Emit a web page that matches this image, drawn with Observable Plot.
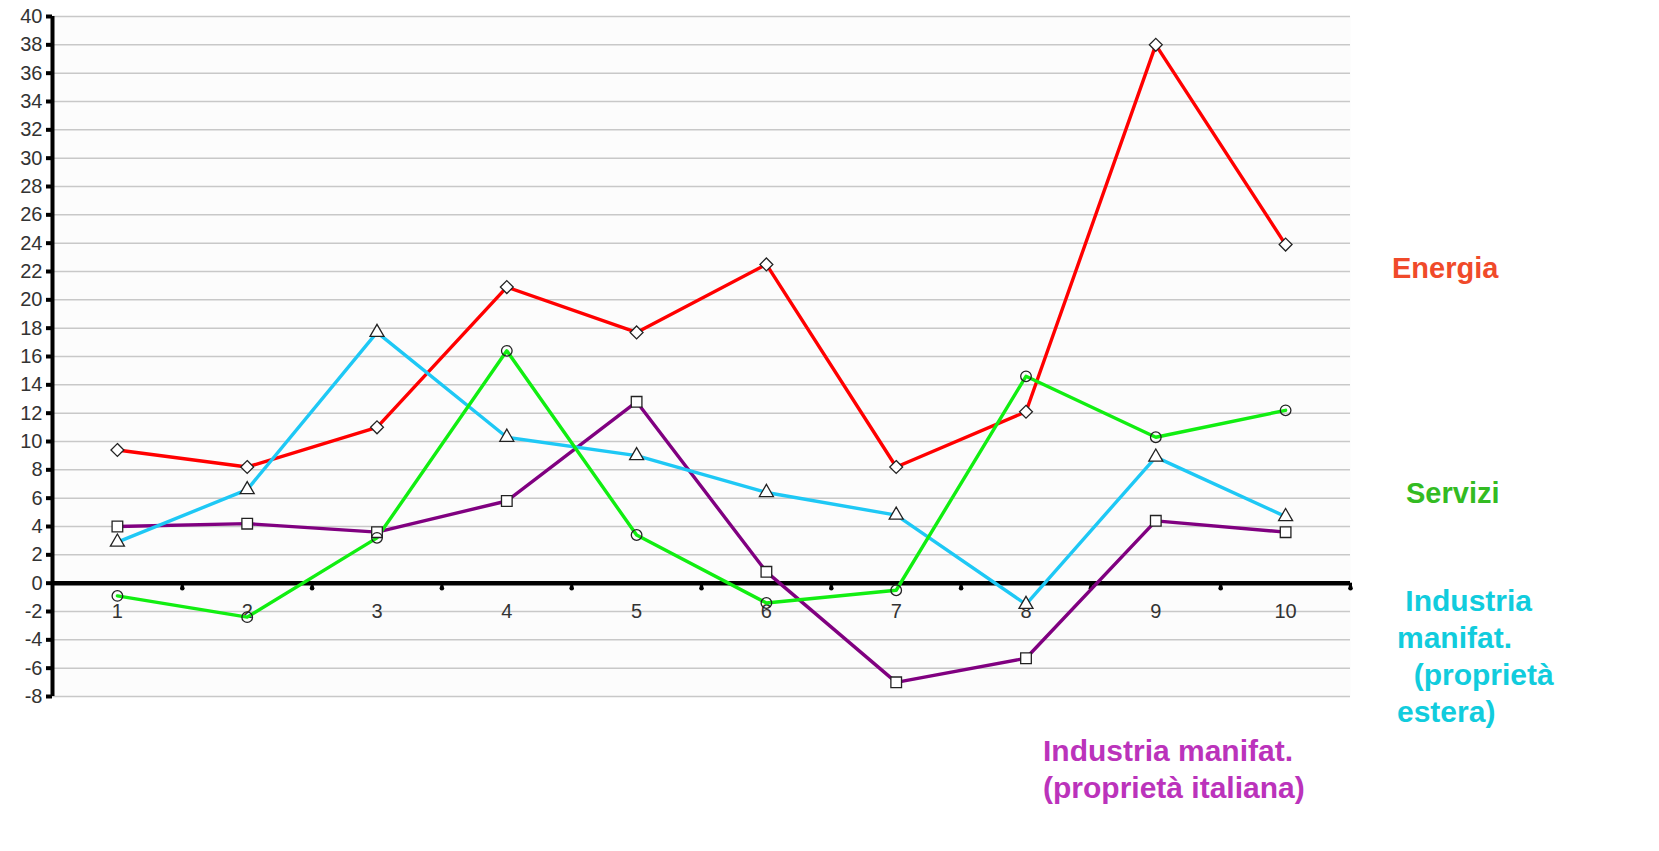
<!DOCTYPE html>
<html>
<head>
<meta charset="utf-8">
<script src="https://cdn.jsdelivr.net/npm/d3@7"></script>
<script src="https://cdn.jsdelivr.net/npm/@observablehq/plot@0.6"></script>
<style>
  html, body { margin: 0; padding: 0; background: #ffffff; }
  #wrap { position: relative; width: 1659px; height: 851px; overflow: hidden; }
  .lbl { position: absolute; font-family: "Liberation Sans", Arial, sans-serif; font-weight: bold; font-size: 30px; line-height: 37px; white-space: pre; }
</style>
</head>
<body>
<div id="wrap"></div>
<script>
const categories = [1, 2, 3, 4, 5, 6, 7, 8, 9, 10];
const energia      = [9.4, 8.2, 11.0, 20.9, 17.7, 22.5, 8.2, 12.1, 38.0, 23.9];
const industriaEst = [2.9, 6.6, 17.7, 10.3, 9.0, 6.4, 4.8, -1.5, 8.9, 4.7];
const servizi      = [-0.9, -2.4, 3.2, 16.4, 3.4, -1.4, -0.5, 14.6, 10.3, 12.2];
const industriaIta = [4.0, 4.2, 3.6, 5.8, 12.8, 0.8, -7.0, -5.3, 4.4, 3.6];
const yTicks = d3.range(-8, 41, 2);

const series = [
  {name: "Energia", values: energia, color: "#ff0000", symbol: "diamond2", r: 5.8},
  {name: "Industria manifat. (proprietà italiana)", values: industriaIta, color: "#800080", symbol: "square", r: 6},
  {name: "Industria manifat. (proprietà estera)", values: industriaEst, color: "#1ec8f5", symbol: "triangle", r: 5.2},
  {name: "Servizi", values: servizi, color: "#11ee11", symbol: "circle", r: 5.3}
];

const rows = series.flatMap(s => categories.map((c, i) => ({series: s.name, x: c, y: s.values[i]})));
const boundaries = categories.map(c => c + 0.5);
const font = "Liberation Sans, Arial, sans-serif";

const marks = [
  Plot.frame({fill: "#fcfcfc", stroke: null}),
  Plot.ruleY(yTicks, {stroke: "#c8c8c8", strokeWidth: 1.5}),
  Plot.axisY({ticks: yTicks, tickSize: 6, tickPadding: 4, fontSize: 20, color: "#333", stroke: "#000", strokeWidth: 4, label: null, tickFormat: d => String(d), fontFamily: font}),
  Plot.ruleX([0.5], {stroke: "#000", strokeWidth: 4}),
  Plot.text(categories, {x: d => d, y: 0, dy: 28, text: d => String(d), fontSize: 20, fill: "#333", fontFamily: font}),
  Plot.ruleX(boundaries, {x: d => d, y1: 0, y2: -0.3, stroke: "#000", strokeWidth: 3}),
  Plot.ruleY([0], {stroke: "#000", strokeWidth: 4.5}),
  Plot.dot(boundaries, {x: d => d, y: 0, r: 2.3, dy: 5, fill: "#000", stroke: null})
];
for (const s of series) {
  const data = rows.filter(r => r.series === s.name);
  marks.push(Plot.line(data, {x: "x", y: "y", stroke: s.color, strokeWidth: 3.4}));
}
for (const s of series) {
  const data = rows.filter(r => r.series === s.name);
  marks.push(Plot.dot(data, {x: "x", y: "y", symbol: s.symbol, r: s.r, fill: s.symbol === "circle" ? "none" : "#fff", stroke: "#222", strokeWidth: 1.3}));
}

const chart = Plot.plot({
  width: 1659,
  height: 851,
  marginLeft: 52,
  marginRight: 309,
  marginTop: 16,
  marginBottom: 155,
  style: {background: "#ffffff", fontFamily: font},
  x: {domain: [0.5, 10.5], axis: null},
  y: {domain: [-8, 40], axis: null},
  marks
});
const wrap = document.getElementById("wrap");
wrap.appendChild(chart);

const labels = [
  {text: "Energia", color: "#f04a2a", left: 1392, top: 250, size: 29},
  {text: "Servizi", color: "#33bb22", left: 1406, top: 475, size: 29},
  {text: " Industria\nmanifat.\n  (proprietà\nestera)", color: "#11ccdd", left: 1397, top: 582, size: 30},
  {text: "Industria manifat.\n(proprietà italiana)", color: "#bb33bb", left: 1043, top: 732, size: 30}
];
for (const l of labels) {
  const d = document.createElement("div");
  d.className = "lbl";
  d.textContent = l.text;
  d.style.color = l.color;
  d.style.left = l.left + "px";
  d.style.top = l.top + "px";
  d.style.fontSize = l.size + "px";
  wrap.appendChild(d);
}
</script>
</body>
</html>
